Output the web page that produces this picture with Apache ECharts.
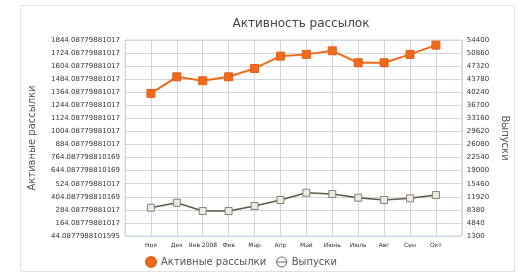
<!DOCTYPE html>
<html>
<head>
<meta charset="utf-8">
<script src="https://cdn.jsdelivr.net/npm/echarts@6/dist/echarts.min.js"></script>
<style>
html,body{margin:0;padding:0;background:#fff;}
#chart{width:518px;height:277px;}
</style>
</head>
<body>
<div id="chart"></div>
<script>
var categories = ['Ноя', 'Дек', 'Янв 2008', 'Фев', 'Мар', 'Апр', 'Май', 'Июнь', 'Июль', 'Авг', 'Сен', 'Окт'];
var activeMailings = [1354, 1506, 1470, 1506, 1583, 1696, 1712, 1745, 1635, 1635, 1712, 1797];
var issues = [8970, 10320, 8070, 8070, 9430, 11050, 13030, 12680, 11680, 11050, 11510, 12410];
var leftTickLabels = ['44.0877988101595', '164.08779881017', '284.08779881017', '404.087798810169', '524.08779881017',
  '644.087798810169', '764.087798810169', '884.08779881017', '1004.08779881017', '1124.08779881017', '1244.08779881017',
  '1364.08779881017', '1484.08779881017', '1604.08779881017', '1724.08779881017', '1844.08779881017'];
var rightTickLabels = ['1300', '4840', '8380', '11920', '15460', '19000', '22540', '26080', '29620', '33160',
  '36700', '40240', '43780', '47320', '50860', '54400'];

var FONT = 'DejaVu Sans';
var leftMin = 44.0877988101595, leftStep = 120;
var rightMin = 1300, rightStep = 3540;

function pairs(arr) { return arr.map(function (v, i) { return [i, v]; }); }

var chart = echarts.init(document.getElementById('chart'), null, {renderer: 'canvas'});
chart.setOption({
  backgroundColor: '#fff',
  animation: false,
  graphic: [{
    type: 'rect', shape: {x: 20.5, y: 5.5, width: 494, height: 266},
    style: {fill: 'none', stroke: '#e2e2e2', lineWidth: 1}, silent: true, z: -1
  }],
  title: {
    text: 'Активность рассылок', left: 296, top: 13, textAlign: 'center',
    textStyle: {fontFamily: FONT, fontSize: 12, fontWeight: 'normal', color: '#444'}
  },
  grid: {left: 125, right: 50, top: 40, bottom: 41, show: true, borderColor: '#cfd6de', borderWidth: 1},
  legend: {
    left: 140, top: 251, itemWidth: 10, itemHeight: 10, itemGap: 10,
    textStyle: {fontFamily: FONT, fontSize: 10, color: '#555'},
    data: [
      {name: 'Активные рассылки', icon: 'circle', itemStyle: {color: '#ee6a1c'}},
      {name: 'Выпуски', icon: 'path://M0,5a5,5 0 1,0 10,0a5,5 0 1,0 -10,0ZM0,5L10,5', itemStyle: {color: '#fff', borderColor: '#6b6358', borderWidth: 1}}
    ]
  },
  xAxis: {
    type: 'value', min: -1, max: 12, interval: 1,
    axisLine: {show: false}, axisTick: {show: false},
    splitLine: {show: true, lineStyle: {color: '#cfd6de', width: 1}},
    axisLabel: {
      fontFamily: FONT, fontSize: 6, color: '#333', margin: 6, showMinLabel: true, showMaxLabel: true,
      formatter: function (v) { var i = Math.round(v); return (i >= 0 && i < categories.length) ? categories[i] : ''; }
    }
  },
  yAxis: [{
    type: 'value', min: leftMin, max: 1844.08779881017, interval: leftStep,
    name: 'Активные рассылки', nameLocation: 'middle', nameGap: 88, nameRotate: 90,
    nameTextStyle: {fontFamily: FONT, fontSize: 10, color: '#555'},
    axisLine: {show: false}, axisTick: {show: false},
    splitLine: {show: true, lineStyle: {color: '#cfd6de', width: 1}},
    axisLabel: {
      fontFamily: FONT, fontSize: 7, color: '#333', margin: 5,
      formatter: function (v) { var i = Math.round((v - leftMin) / leftStep); return leftTickLabels[i] || ''; }
    }
  }, {
    type: 'value', min: rightMin, max: 54400, interval: rightStep, position: 'right',
    name: 'Выпуски', nameLocation: 'middle', nameGap: 38, nameRotate: -90,
    nameTextStyle: {fontFamily: FONT, fontSize: 10, color: '#555'},
    axisLine: {show: false}, axisTick: {show: false},
    splitLine: {show: false},
    axisLabel: {
      fontFamily: FONT, fontSize: 7, color: '#333', margin: 5,
      formatter: function (v) { var i = Math.round((v - rightMin) / rightStep); return rightTickLabels[i] || ''; }
    }
  }],
  series: [{
    name: 'Активные рассылки', type: 'line', yAxisIndex: 0, data: pairs(activeMailings),
    symbol: 'rect', symbolSize: 8,
    lineStyle: {color: '#ee6a1c', width: 2},
    itemStyle: {color: '#ee6a1c', borderColor: '#e4601a', borderWidth: 1}
  }, {
    name: 'Выпуски', type: 'line', yAxisIndex: 1, data: pairs(issues),
    symbol: 'rect', symbolSize: 7,
    lineStyle: {color: '#5e564a', width: 1.5},
    itemStyle: {color: '#ece8e2', borderColor: '#8a8276', borderWidth: 1}
  }]
});
</script>
</body>
</html>
